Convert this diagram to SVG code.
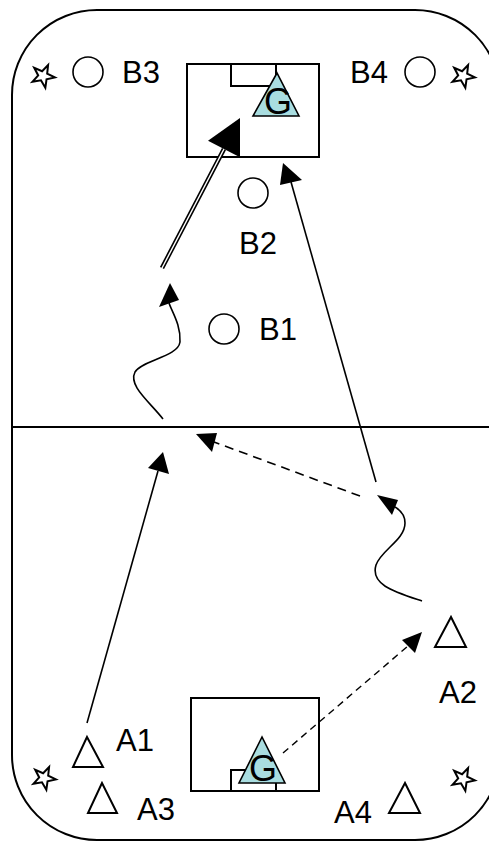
<svg xmlns="http://www.w3.org/2000/svg" width="489" height="841" viewBox="0 0 489 841">
<style>
.ln{stroke:#000;stroke-width:1.6;fill:none}
.dash1{stroke:#000;stroke-width:1.6;fill:none;stroke-dasharray:9 6}
.dash2{stroke:#000;stroke-width:1.4;fill:none;stroke-dasharray:7 5}
.ah{fill:#000;stroke:none}
.circ{fill:#fff;stroke:#000;stroke-width:1.6}
.tri{fill:#fff;stroke:#000;stroke-width:2}
.gk{fill:#a9dde0;stroke:#000;stroke-width:1.6}
.box{fill:#fff;stroke:#000;stroke-width:2}
.lbl{font-family:"Liberation Sans",Arial,sans-serif;font-size:31px;fill:#000}
.g{font-family:"Liberation Sans",Arial,sans-serif;font-size:36px;fill:#000;text-anchor:middle}
.star{fill:#fff;stroke:#000;stroke-width:2;stroke-linejoin:miter}
</style>
<defs>
<polygon id="starshape" points="0,-12 2.8,-3.9 11.4,-3.7 4.6,1.5 7.1,9.7 0,4.8 -7.1,9.7 -4.6,1.5 -11.4,-3.7 -2.8,-3.9"/>
</defs>
<rect width="489" height="841" fill="#fff"/>
<g id="field">
<rect x="12" y="10" width="488" height="830" rx="85" ry="85" fill="none" stroke="#000" stroke-width="2"/>
<line x1="12" y1="427" x2="489" y2="427" stroke="#000" stroke-width="2"/>
</g>
<g id="goal-top">
<rect class="box" x="187" y="64" width="132" height="93"/>
<rect class="box" x="231" y="64" width="45" height="22"/>
<polygon class="gk" points="277,73 253,116 299,116"/>
<text class="g" x="278" y="114">G</text>
</g>
<g id="goal-bottom">
<rect class="box" x="191" y="698" width="128" height="93"/>
<rect class="box" x="231" y="770" width="45" height="21"/>
<polygon class="gk" points="262,737 239,783 285,783"/>
<text class="g" x="263" y="781">G</text>
</g>
<g id="B3"><use href="#starshape" class="star" transform="translate(43,76) rotate(25)"/><circle class="circ" cx="88" cy="72" r="15"/><text class="lbl" x="122" y="83">B3</text></g>
<g id="B4"><text class="lbl" x="350" y="83">B4</text><circle class="circ" cx="420" cy="72" r="15"/><use href="#starshape" class="star" transform="translate(463,76) rotate(25)"/></g>
<g id="B2"><circle class="circ" cx="253" cy="193" r="15"/><text class="lbl" x="239" y="254">B2</text></g>
<g id="B1"><circle class="circ" cx="224" cy="329" r="15"/><text class="lbl" x="259" y="340">B1</text></g>
<g id="A1"><polygon class="tri" points="87,737 73,767 103,767"/><text class="lbl" x="116" y="751">A1</text></g>
<g id="A3"><polygon class="tri" points="102,783 88,813 117,813"/><text class="lbl" x="137" y="820">A3</text><use href="#starshape" class="star" transform="translate(44,778) rotate(25)"/></g>
<g id="A2"><polygon class="tri" points="451,617 435,647 466,647"/><text class="lbl" x="439" y="703">A2</text></g>
<g id="A4"><polygon class="tri" points="405,783 389,813 420,813"/><text class="lbl" x="334" y="823">A4</text><use href="#starshape" class="star" transform="translate(463,779) rotate(25)"/></g>
<g id="connectors">
<line x1="162" y1="268" x2="224" y2="149" stroke="#000" stroke-width="4.6"/>
<line x1="161" y1="270" x2="225" y2="147" stroke="#fff" stroke-width="1.4"/>
<polygon class="ah" points="240,118 240,157.3 208,140.7"/>
<path class="ln" d="M163,419 C150,402 128,386 135,372 C142,360 178,357 180,342 C181,325 172,312 169,303"/>
<polygon class="ah" points="170,283 159,307 179,300"/>
<line class="ln" x1="376" y1="482" x2="291" y2="182"/>
<polygon class="ah" points="283,163 280,185 302,180"/>
<line class="dash1" x1="360" y1="496" x2="214" y2="442"/>
<polygon class="ah" points="196,434 217,433 212,452"/>
<path class="ln" d="M422,601 C395,592 370,585 376,565 C381,550 405,540 405,523 C405,515 400,510 395,507"/>
<polygon class="ah" points="377,495 398,500 392,515"/>
<line class="ln" x1="87" y1="723" x2="158" y2="471"/>
<polygon class="ah" points="163,452 148,468 169,474"/>
<line class="dash2" x1="283" y1="753" x2="408" y2="646"/>
<polygon class="ah" points="422,632 402,640 415,653"/>
</g>
</svg>
